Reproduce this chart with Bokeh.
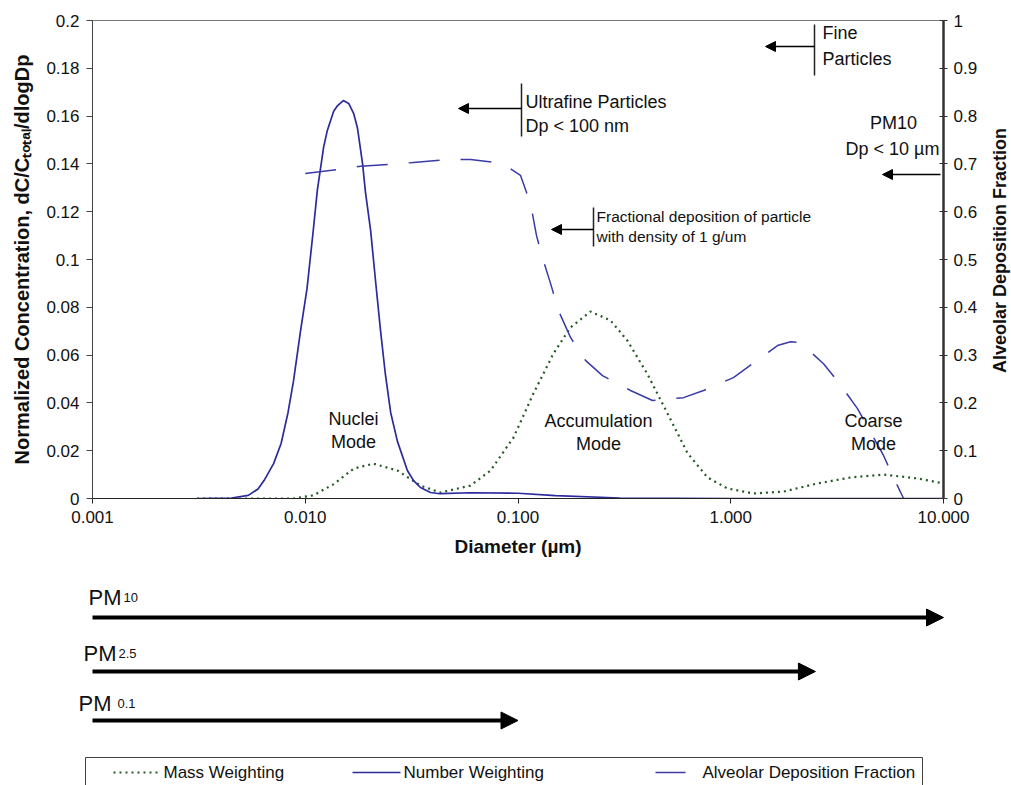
from math import pi

from bokeh.core.properties import value
from bokeh.embed import file_html
from bokeh.layouts import row
from bokeh.models import Arrow, FixedTicker, Label, LinearAxis, LogScale, NormalHead, Range1d
from bokeh.plotting import figure
from bokeh.resources import INLINE

FONT = "Liberation Sans"
NAVY = "#2b2b9b"
NAVY_DASH = "#3b3ba6"
GREEN = "#245a24"
INK = "#111111"

# ---- size distributions (diameter in um) ----
number_d = [0.0031, 0.0045, 0.0054, 0.0060, 0.0064, 0.0071, 0.0077, 0.0083, 0.0088, 0.0095,
            0.0102, 0.0109, 0.0114, 0.0122, 0.0127, 0.0136, 0.0142, 0.0151, 0.0160, 0.0169,
            0.0176, 0.0186, 0.0192, 0.0203, 0.0214, 0.0226, 0.0238, 0.0252, 0.0271, 0.0302,
            0.0323, 0.0348, 0.0388, 0.043, 0.06, 0.10, 0.15, 0.30, 1.0, 10.0]
number_v = [0.0, 0.0002, 0.0013, 0.004, 0.0075, 0.0146, 0.023, 0.036, 0.049, 0.070,
            0.088, 0.112, 0.129, 0.147, 0.154, 0.162, 0.1644, 0.1665, 0.1653, 0.161,
            0.155, 0.140, 0.128, 0.112, 0.091, 0.070, 0.052, 0.036, 0.024, 0.0117,
            0.0075, 0.0046, 0.0025, 0.0020, 0.0024, 0.0022, 0.0012, 0.0002, 0.0, 0.0]

mass_d = [0.0031, 0.0088, 0.0109, 0.0136, 0.0169, 0.0209, 0.0271, 0.0348, 0.0432, 0.0598,
          0.0743, 0.0952, 0.1183, 0.1469, 0.1765, 0.2192, 0.2722, 0.3271, 0.4061, 0.5043,
          0.6263, 0.7776, 0.9654, 1.279, 1.770, 2.557, 3.655, 5.224, 7.548, 10.0]
mass_v = [0.0, 0.0, 0.0013, 0.006, 0.0125, 0.0146, 0.0117, 0.0054, 0.0025, 0.0054,
          0.0117, 0.0255, 0.044, 0.0607, 0.0716, 0.0782, 0.0745, 0.066, 0.052, 0.0356,
          0.019, 0.0088, 0.0042, 0.0021, 0.0029, 0.0063, 0.0088, 0.010, 0.0084, 0.0063]

# alveolar deposition fraction, right-hand axis
adf_d = [0.0100, 0.0142, 0.0182, 0.0252, 0.0323, 0.0466, 0.0598, 0.0846, 0.1027, 0.1145,
         0.1222, 0.1303, 0.1422, 0.1550, 0.1765, 0.2076, 0.2495, 0.3379, 0.4287, 0.5998,
         0.7447, 1.030, 1.265, 1.659, 1.910, 2.128, 2.729, 3.211, 3.943, 5.224, 5.82, 6.49]
adf_v = [0.680, 0.688, 0.695, 0.699, 0.703, 0.709, 0.709, 0.701, 0.676, 0.617,
         0.550, 0.504, 0.450, 0.393, 0.337, 0.289, 0.257, 0.226, 0.205, 0.211,
         0.226, 0.253, 0.282, 0.320, 0.328, 0.326, 0.282, 0.243, 0.188, 0.090, 0.044, 0.0]

# ---- axis ticks ----
conc_ticks = [0, 0.02, 0.04, 0.06, 0.08, 0.1, 0.12, 0.14, 0.16, 0.18, 0.2]
conc_labels = ["0", "0.02", "0.04", "0.06", "0.08", "0.1", "0.12", "0.14", "0.16", "0.18", "0.2"]
adf_ticks = [0, 0.1, 0.2, 0.3, 0.4, 0.5, 0.6, 0.7, 0.8, 0.9, 1]
adf_labels = ["0", "0.1", "0.2", "0.3", "0.4", "0.5", "0.6", "0.7", "0.8", "0.9", "1"]
dia_ticks = [0.001, 0.01, 0.1, 1, 10]
dia_labels = ["0.001", "0.010", "0.100", "1.000", "10.000"]

# PM size classes: name, subscript, upper cut size (um)
pm_names = ["PM", "PM", "PM"]
pm_subs = ["10", "2.5", "0.1"]
pm_cuts = [10.0, 2.5, 0.1]

legend_labels = ["Mass Weighting", "Number Weighting", "Alveolar Deposition Fraction"]

# frame geometry of the main chart (pixels)
FRAME_L, FRAME_R, FRAME_T, FRAME_B = 92, 943, 20, 498
TOP_H = 565
TITLE_W = 24  # strip holding the right-hand axis title

# ================= main chart =================
p = figure(width=1011 - TITLE_W, height=TOP_H, x_axis_type="log",
           x_range=Range1d(dia_ticks[0], dia_ticks[-1]), y_range=Range1d(0, 0.2),
           output_backend="svg", toolbar_location=None,
           min_border_left=FRAME_L, min_border_right=1011 - TITLE_W - FRAME_R,
           min_border_top=FRAME_T, min_border_bottom=TOP_H - FRAME_B)
p.xgrid.visible = False
p.ygrid.visible = False
p.outline_line_color = "#777777"
p.outline_line_width = 1
p.background_fill_color = "white"
p.border_fill_color = "white"

p.extra_y_ranges = {"adf": Range1d(0, 1)}

xa = p.xaxis[0]
xa.ticker = FixedTicker(ticks=dia_ticks, minor_ticks=[])
xa.major_label_overrides = dict(zip(dia_ticks, dia_labels))
xa.axis_line_color = "#222222"
xa.major_tick_out = 5
xa.major_tick_in = 0
xa.major_tick_line_color = "#222222"
xa.major_label_standoff = 7
xa.major_label_text_font = FONT
xa.major_label_text_font_size = "17px"
xa.major_label_text_color = INK
xa.axis_label = "Diameter (µm)"
xa.axis_label_text_font = FONT
xa.axis_label_text_font_size = "19px"
xa.axis_label_text_font_style = "bold"
xa.axis_label_text_color = INK
xa.axis_label_standoff = 10

ya = p.yaxis[0]
ya.ticker = FixedTicker(ticks=conc_ticks, minor_ticks=[])
ya.major_label_overrides = dict(zip(conc_ticks, conc_labels))
ya.axis_line_color = "#444444"
ya.major_tick_out = 6
ya.major_tick_in = 0
ya.major_tick_line_color = "#444444"
ya.minor_tick_line_color = None
ya.major_label_standoff = 7
ya.major_label_text_font = FONT
ya.major_label_text_font_size = "17px"
ya.major_label_text_color = INK
ya.axis_label = "Normalized Concentration, dC/C\u209c\u2092\u209c\u2090\u2097/dlogDp"
ya.axis_label_text_font = FONT
ya.axis_label_text_font_size = "20px"
ya.axis_label_text_font_style = "bold"
ya.axis_label_text_color = INK
ya.axis_label_standoff = 10

ra = LinearAxis(y_range_name="adf", ticker=FixedTicker(ticks=adf_ticks, minor_ticks=[]))
ra.major_label_overrides = dict(zip(adf_ticks, adf_labels))
ra.axis_line_color = "#333333"
ra.axis_line_width = 2.5
ra.major_tick_out = 4
ra.major_tick_in = 4
ra.major_tick_line_color = "#333333"
ra.minor_tick_line_color = None
ra.major_label_standoff = 6
ra.major_label_text_font = FONT
ra.major_label_text_font_size = "17px"
ra.major_label_text_color = INK
p.add_layout(ra, "right")

p.line(mass_d, mass_v, line_color=GREEN, line_width=2.2, line_dash="2 4")
p.line(number_d, number_v, line_color=NAVY, line_width=1.7, line_join="round")
p.line(adf_d, adf_v, y_range_name="adf", line_color=NAVY_DASH, line_width=1.5,
       line_dash="31 21", line_join="round")


def label(plot, text, sx, sy, size, align="left", baseline="middle"):
    plot.add_layout(Label(x=sx, y=sy, x_units="screen", y_units="screen", text=text,
                          text_font=FONT, text_font_size=f"{size}px", text_color=INK,
                          text_align=align, text_baseline=baseline))


def bar(plot, sx, sy0, sy1):
    plot.add_layout(Arrow(end=None, x_start=sx, y_start=sy0, x_end=sx, y_end=sy1,
                          start_units="screen", end_units="screen",
                          line_color="#222222", line_width=1.5))


def pointer(plot, sx0, sx1, sy):
    plot.add_layout(Arrow(end=NormalHead(size=10, fill_color="black", line_color="black", line_width=1),
                          x_start=sx0, y_start=sy, x_end=sx1, y_end=sy,
                          start_units="screen", end_units="screen",
                          line_color="black", line_width=1.5))


# size-range callouts (positions relative to the plot frame)
bar(p, 429, 415, 362)
pointer(p, 429, 366, 390)
label(p, "Ultrafine Particles", 433, 397, 18)
label(p, "Dp < 100 nm", 433, 373, 18)

bar(p, 722, 474, 423)
pointer(p, 722, 673, 452)
label(p, "Fine", 730, 466, 18)
label(p, "Particles", 730, 440, 18)

label(p, "PM10", 801, 376, 18, align="center")
label(p, "Dp < 10 µm", 800, 350, 18, align="center")
pointer(p, 848, 790, 324)

bar(p, 501, 291, 252)
pointer(p, 501, 459, 269)
label(p, "Fractional deposition of particle", 504, 282, 15.5)
label(p, " with density of 1 g/um", 504, 262, 15.5)

# mode names
label(p, "Nuclei", 261, 80, 18, align="center")
label(p, "Mode", 261, 57, 18, align="center")
label(p, "Accumulation", 506, 78, 18, align="center")
label(p, "Mode", 506, 55, 18, align="center")
label(p, "Coarse", 781, 78, 18, align="center")
label(p, "Mode", 781, 55, 18, align="center")

# ---- right-hand axis title, reading bottom to top ----
pr = figure(width=TITLE_W, height=TOP_H, x_range=Range1d(1011 - TITLE_W, 1011),
            y_range=Range1d(FRAME_B, FRAME_T), output_backend="svg", toolbar_location=None,
            x_axis_location=None, y_axis_location=None, outline_line_color=None,
            min_border_left=0, min_border_right=0,
            min_border_top=FRAME_T, min_border_bottom=TOP_H - FRAME_B)
pr.xgrid.visible = False
pr.ygrid.visible = False
pr.add_layout(Label(x=999, y=250, text="Alveolar Deposition Fraction", angle=pi / 2,
                    text_font=FONT, text_font_size="18px", text_font_style="bold",
                    text_color=INK, text_align="center", text_baseline="middle"))

top = row(p, pr, spacing=0)

# ================= PM size classes + legend =================
# pixel-based primary ranges; the "dia" range repeats the main chart's log scale
pb = figure(width=1011, height=220, x_range=Range1d(0, 1011), y_range=Range1d(220, 0),
            output_backend="svg", toolbar_location=None,
            x_axis_location=None, y_axis_location=None, outline_line_color=None,
            min_border_left=0, min_border_right=0, min_border_top=0, min_border_bottom=0)
pb.xgrid.visible = False
pb.ygrid.visible = False
decade_px = (FRAME_R - FRAME_L) / 4
pb.extra_x_ranges = {"dia": Range1d(10 ** (-3 - FRAME_L / decade_px),
                                    10 ** (1 + (1011 - FRAME_R) / decade_px))}
pb.extra_x_scales = {"dia": LogScale()}

pm_rows = [52, 106, 155]
pm_base = [32, 88, 138]
pm_name_x = [88, 83, 78]
pm_sub_x = [123, 118, 117]
for name, sub, cut, yrow, base, nx, sx in zip(pm_names, pm_subs, pm_cuts, pm_rows, pm_base,
                                               pm_name_x, pm_sub_x):
    pb.add_layout(Arrow(end=NormalHead(size=17, fill_color="black", line_color="black", line_width=1),
                        x_start=dia_ticks[0], y_start=yrow, x_end=cut, y_end=yrow,
                        x_range_name="dia", line_color="black", line_width=4))
    pb.add_layout(Label(x=nx, y=base, text=name, text_font=FONT, text_font_size="22px",
                        text_color=INK, text_baseline="alphabetic"))
    pb.add_layout(Label(x=sx, y=base, text=sub, text_font=FONT, text_font_size="13px",
                        text_color=INK, text_baseline="alphabetic"))

# legend strip along the bottom edge
pb.quad(left=[85], right=[922], top=[192], bottom=[240], fill_color=None,
        line_color="#444444", line_width=1)
pb.line([113, 160], [207, 207], line_color=GREEN, line_width=2.2, line_dash="2 4")
pb.line([352, 400], [207, 207], line_color=NAVY, line_width=1.7)
pb.line([655, 695], [207, 207], line_color=NAVY_DASH, line_width=1.5, line_dash="30 20")
pb.text(x=[163, 403, 702], y=[207, 207, 207], text=legend_labels,
        text_font=value(FONT), text_font_size="17px", text_color=INK, text_baseline="middle")

open("out.html", "w").write(file_html([top, pb], INLINE))
